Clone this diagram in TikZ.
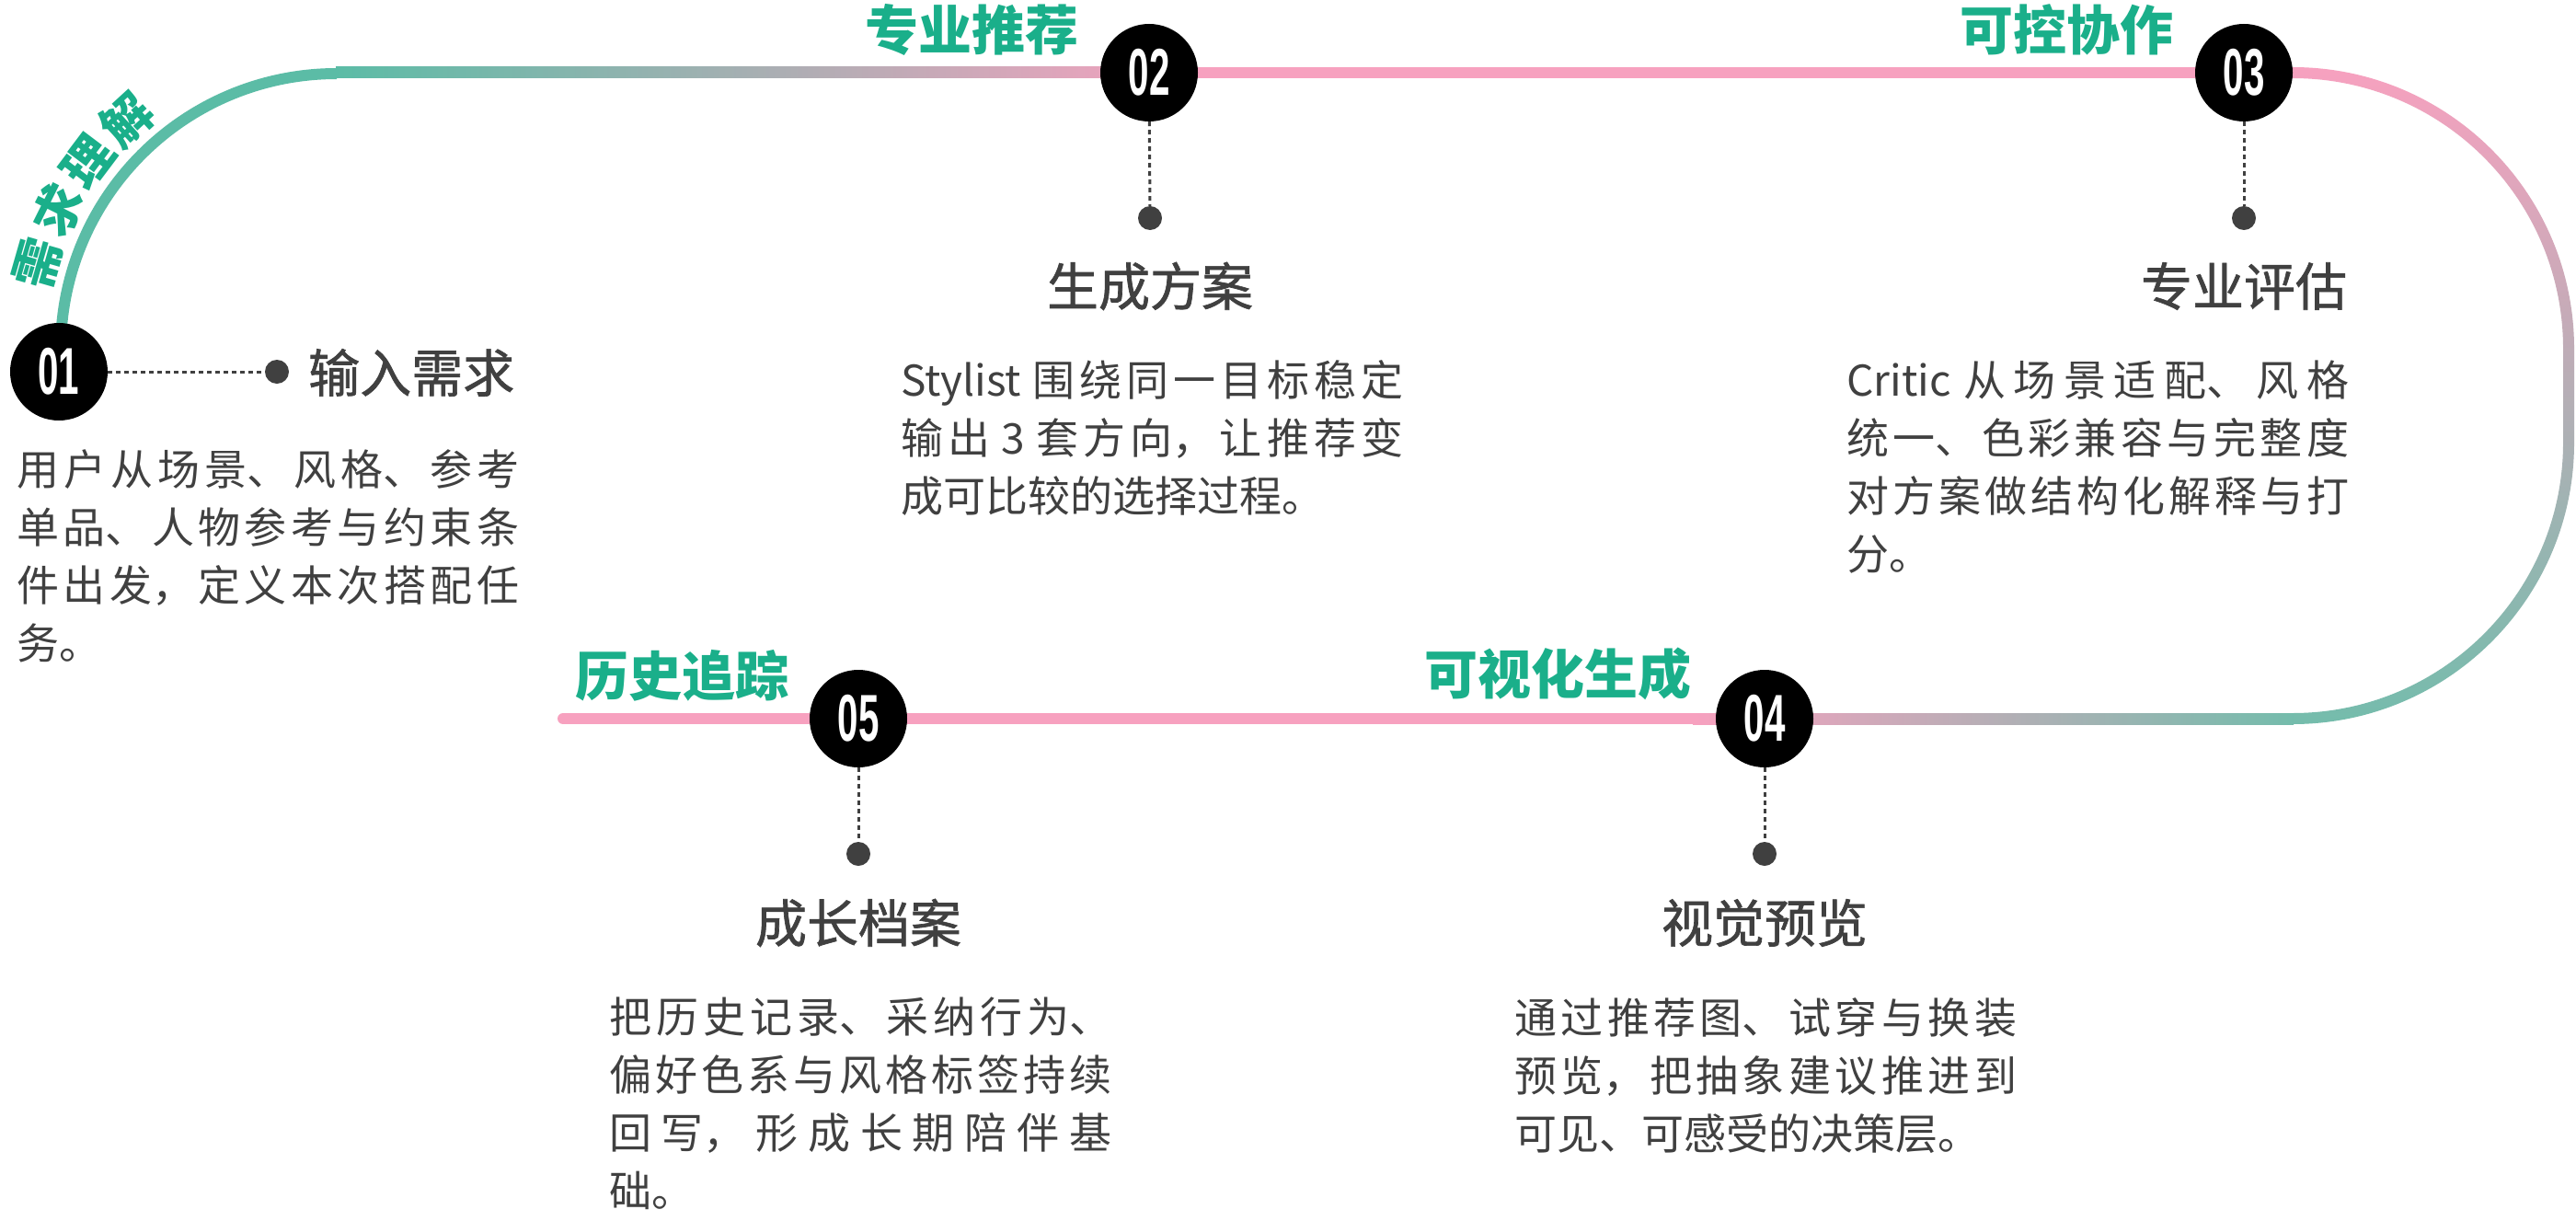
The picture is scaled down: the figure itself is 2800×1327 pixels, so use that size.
\documentclass[tikz,border=0pt]{standalone}
\usepackage{fontspec}
\usepackage{graphicx}
\setmainfont{Noto Sans CJK SC}
\newfontfamily\titlefont{Noto Sans CJK SC}[FakeBold=1.2]
\newfontfamily\numfont{Liberation Sans}
\XeTeXlinebreaklocale "zh"
\XeTeXlinebreakskip=0pt plus 12pt
\setlength{\parindent}{0pt}
\definecolor{tealc}{HTML}{5BBCA6}
\definecolor{tealb}{HTML}{74BCAC}
\definecolor{pinkc}{HTML}{F7A1BF}
\definecolor{greenc}{HTML}{1AAF8A}
\definecolor{darkc}{HTML}{404040}
\newcommand\numtxt[1]{\scalebox{0.56}[1]{\numfont\bfseries\fontsize{72}{72}\selectfont #1}}
\begin{document}
\begin{tikzpicture}[x=1pt,y=-1pt,
  track/.style={line width=12pt},
  numc/.style={circle, fill=black, minimum size=106pt, inner sep=0pt, text=white},
  dotn/.style={circle, fill=darkc, minimum size=26pt, inner sep=0pt},
  dotline/.style={draw=darkc, line width=3pt, dash pattern=on 5pt off 4pt},
  ttl/.style={text=darkc, font=\titlefont\fontsize{56}{60}\selectfont, inner sep=0pt},
  bodyt/.style={text=darkc, font=\fontsize{46}{63}\selectfont, text width=546pt, align=justify, inner sep=0pt, anchor=north west},
  grn/.style={text=greenc, font=\fontsize{58}{60}\selectfont\bfseries, inner sep=0pt},
  arcl/.style={text=greenc, font=\fontsize{54}{56}\selectfont\bfseries, inner sep=0pt}]
\useasboundingbox (0,0) rectangle (2800,1327);
\fill[white] (0,0) rectangle (2800,1327);

% track
\draw[track, tealc] (66,380) .. controls (66,214.3) and (200.3,80) .. (366,80);
\shade[left color=tealc, right color=pinkc] (365,73) rectangle (1300,85);
\draw[track, pinkc] (1299,79) -- (2493,79);
\shade[top color=pinkc, bottom color=tealb]
  (2492,73) .. controls (2661,73) and (2798,210) .. (2798,379) -- (2798,481)
  .. controls (2798,650) and (2661,787) .. (2492,787) -- (2492,775)
  .. controls (2654.4,775) and (2786,643.4) .. (2786,481) -- (2786,379)
  .. controls (2786,216.6) and (2654.4,85) .. (2492,85) -- cycle;
\shade[left color=pinkc, right color=tealb] (1840,775) rectangle (2493,787);
\draw[track, pinkc, line cap=round] (1841,781) -- (612,781);

% arc label
\node[arcl, rotate=74] (ga) at (41,286) {需};
\node[arcl, rotate=63.5] (gb) at (63.5,228) {求};
\node[arcl, rotate=53] (gc) at (96,176) {理};
\node[arcl, rotate=42.5] (gd) at (138,130) {解};

% green labels
\node[grn] (g2) at (1056,32) {专业推荐};
\node[grn] (g3) at (2246,32) {可控协作};
\node[grn] (g4) at (1693,732) {可视化生成};
\node[grn] (g5) at (741,734) {历史追踪};

% circles
\node[numc] (n1) at (64,404) {\numtxt{01}};
\node[numc] (n2) at (1249,79) {\numtxt{02}};
\node[numc] (n3) at (2439,79) {\numtxt{03}};
\node[numc] (n4) at (1918,781) {\numtxt{04}};
\node[numc] (n5) at (933,781) {\numtxt{05}};

% dots
\node[dotn] (d1) at (301,404) {};
\node[dotn] (d2) at (1250,237) {};
\node[dotn] (d3) at (2439,237) {};
\node[dotn] (d4) at (1918,928) {};
\node[dotn] (d5) at (933,928) {};
\draw[dotline] (n1) -- (d1);
\draw[dotline] (n2) -- (d2);
\draw[dotline] (n3) -- (d3);
\draw[dotline] (n4) -- (d4);
\draw[dotline] (n5) -- (d5);

% titles
\node[ttl, anchor=west] (t1) at (335,405) {输入需求};
\node[ttl] (t2) at (1250,311) {生成方案};
\node[ttl] (t3) at (2439,311) {专业评估};
\node[ttl] (t4) at (1918,1003) {视觉预览};
\node[ttl] (t5) at (933,1003) {成长档案};

% bodies
\node[bodyt] (b1) at (18,488) {用户从场景、风格、参考\linebreak 单品、人物参考与约束条\linebreak 件出发，定义本次搭配任\linebreak 务。};
\node[bodyt] (b2) at (979,391) {Stylist 围绕同一目标稳定\linebreak 输出 3 套方向，让推荐变\linebreak 成可比较的选择过程。};
\node[bodyt] (b3) at (2007,392) {Critic 从场景适配、风格\linebreak 统一、色彩兼容与完整度\linebreak 对方案做结构化解释与打\linebreak 分。};
\node[bodyt] (b4) at (1646,1084) {通过推荐图、试穿与换装\linebreak 预览，把抽象建议推进到\linebreak 可见、可感受的决策层。};
\node[bodyt] (b5) at (662,1084) {把历史记录、采纳行为、\linebreak 偏好色系与风格标签持续\linebreak 回写，形成长期陪伴基\linebreak 础。};
\end{tikzpicture}
\end{document}
